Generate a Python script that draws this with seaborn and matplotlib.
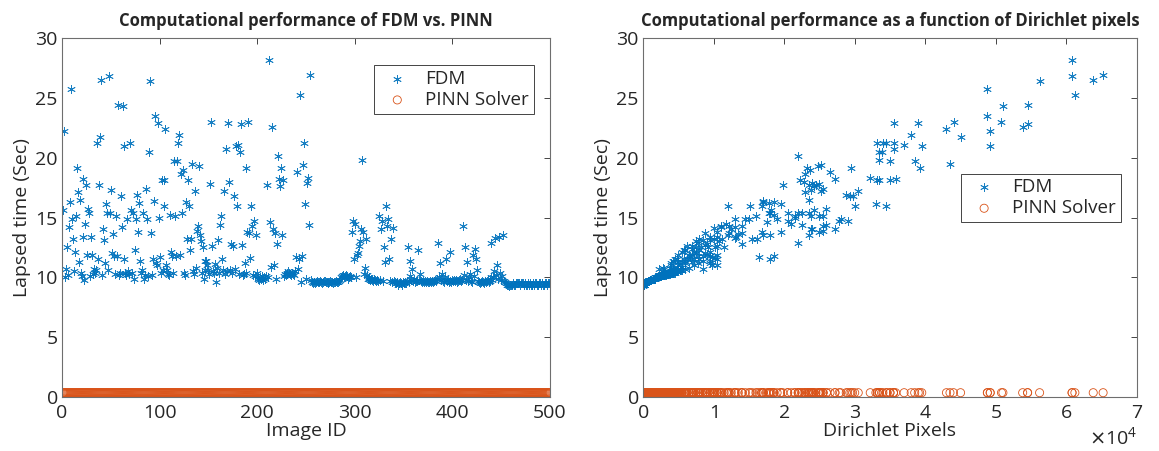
import numpy as np
import pandas as pd
import matplotlib
matplotlib.use("Agg")
import matplotlib.pyplot as plt
import seaborn as sns

# FDM solve time (s) per image, image IDs 1..500
fdm_time = [
    15.6, 22.2, 10.0, 10.7, 12.5, 10.2, 14.2, 16.3, 25.7, 14.9,
    13.2, 10.5, 12.1, 15.1, 19.1, 17.1, 11.25, 16.5, 10.4, 10.1,
    13.4, 18.2, 9.8, 14.5, 17.7, 11.9, 15.7, 15.4, 10.1, 13.4,
    11.9, 10.3, 10.7, 10.4, 10.6, 21.2, 11.5, 17.7, 21.7, 26.5,
    10.2, 14.0, 13.1, 11.2, 16.1, 15.4, 10.6, 26.8, 15.4, 17.3,
    12.0, 13.6, 11.8, 10.3, 15.1, 11.8, 24.4, 10.2, 10.4, 16.8,
    14.2, 24.3, 11.5, 21.0, 10.4, 10.2, 14.9, 10.5, 10.3, 21.2,
    15.6, 10.4, 15.4, 9.9, 12.3, 14.9, 16.9, 13.8, 16.2, 11.4,
    10.4, 10.6, 15.4, 9.9, 10.2, 17.4, 14.9, 10.1, 20.5, 26.4,
    13.7, 10.2, 11.5, 16.4, 23.5, 11.2, 11.0, 22.9, 15.0, 11.7,
    10.4, 18.1, 10.6, 18.1, 16.0, 22.4, 11.0, 10.6, 10.3, 10.2,
    15.2, 12.1, 11.8, 10.4, 19.75, 15.1, 11.8, 19.75, 21.2, 21.9,
    11.9, 18.6, 15.4, 19.0, 10.4, 10.2, 16.3, 13.2, 18.1, 16.0,
    12.3, 13.2, 19.5, 10.5, 10.3, 17.25, 10.75, 13.9, 14.3, 19.3,
    13.5, 13.0, 10.4, 12.5, 9.9, 11.4, 10.6, 11.4, 11.0, 10.6,
    10.3, 17.8, 23.0, 12.6, 10.5, 10.4, 11.1, 9.6, 10.8, 13.1,
    10.4, 14.4, 15.1, 11.5, 10.6, 17.2, 10.3, 20.7, 10.5, 22.9,
    18.0, 10.6, 12.8, 10.4, 12.6, 16.8, 10.7, 21.0, 16.0, 21.1,
    10.3, 20.5, 22.8, 12.7, 10.2, 10.25, 11.2, 19.1, 10.4, 13.8,
    23.0, 13.7, 11.6, 16.0, 14.3, 10.2, 14.7, 10.1, 13.5, 10.4,
    9.9, 9.8, 10.0, 9.9, 10.1, 9.8, 10.0, 9.9, 10.1, 17.7,
    10.0, 28.2, 14.6, 10.9, 22.6, 14.0, 11.0, 13.7, 9.9, 12.8,
    20.1, 18.2, 17.6, 19.1, 13.5, 18.1, 10.1, 10.3, 10.2, 10.4,
    10.3, 10.5, 10.4, 10.3, 10.2, 10.4, 10.3, 10.2, 10.5, 11.7,
    18.8, 10.7, 11.5, 25.2, 9.6, 11.75, 19.4, 21.2, 16.1, 9.9,
    17.9, 18.3, 14.4, 26.9, 9.8, 9.6, 9.5, 9.6, 9.5, 9.6,
    9.7, 9.6, 9.6, 9.7, 9.6, 9.5, 9.6, 9.7, 9.7, 9.6,
    9.6, 9.5, 9.6, 9.6, 9.7, 9.6, 9.6, 9.5, 9.6, 9.6,
    9.7, 9.6, 9.6, 9.7, 9.8, 10.0, 10.1, 10.2, 10.0, 10.1,
    10.2, 10.1, 9.9, 10.0, 10.1, 10.0, 13.8, 14.7, 11.5, 14.5,
    10.0, 11.9, 12.0, 12.6, 13.0, 14.0, 19.8, 13.75, 10.3, 10.8,
    13.2, 10.2, 9.9, 9.9, 10.0, 9.8, 9.9, 9.8, 9.7, 9.9,
    9.8, 9.7, 9.8, 9.7, 15.1, 9.8, 14.0, 14.7, 9.7, 12.5,
    11.25, 16.0, 14.3, 14.9, 11.5, 9.7, 13.2, 9.6, 14.1, 9.7,
    9.6, 9.5, 9.6, 9.4, 9.5, 9.6, 9.5, 9.4, 9.6, 9.5,
    9.6, 9.5, 9.7, 12.5, 9.6, 10.1, 11.4, 9.8, 10.7, 9.7,
    9.9, 9.6, 9.7, 9.7, 12.3, 9.8, 10.3, 9.7, 9.6, 9.7,
    9.6, 9.7, 9.6, 9.7, 9.6, 9.6, 9.7, 9.6, 9.7, 9.6,
    9.7, 9.8, 9.7, 9.9, 12.9, 10.0, 11.2, 9.8, 10.3, 9.7,
    9.6, 10.0, 11.5, 9.7, 9.8, 9.6, 12.1, 9.7, 9.6, 9.8,
    9.7, 9.8, 9.7, 9.8, 9.6, 9.7, 9.8, 9.9, 9.7, 9.8,
    14.3, 10.2, 12.5, 9.8, 11.25, 9.7, 10.0, 10.3, 9.7, 9.6,
    11.9, 10.1, 12.4, 11.5, 10.6, 9.7, 9.6, 9.5, 9.6, 9.7,
    9.6, 9.5, 9.7, 9.6, 9.7, 9.8, 9.6, 9.7, 10.0, 12.9,
    9.8, 10.0, 10.5, 13.3, 10.2, 11.0, 9.9, 13.4, 10.4, 9.8,
    10.1, 13.5, 9.7, 9.6, 9.5, 9.4, 9.4, 9.3, 9.4, 9.4,
    9.4, 9.5, 9.4, 9.4, 9.5, 9.5, 9.5, 9.5, 9.4, 9.5,
    9.5, 9.5, 9.4, 9.5, 9.4, 9.4, 9.5, 9.4, 9.5, 9.4,
    9.4, 9.4, 9.5, 9.4, 9.5, 9.5, 9.4, 9.4, 9.5, 9.5,
    9.4, 9.5, 9.4, 9.4, 9.5, 9.5, 9.4, 9.5, 9.5, 9.5,
]

# Dirichlet pixel count per image, in units of 1e4
dirichlet_px_e4 = [
    1.82, 4.92, 0.20, 0.30, 0.82, 0.28, 1.10, 1.70, 4.88, 1.50,
    1.00, 0.42, 0.95, 2.38, 3.92, 2.30, 0.70, 2.35, 0.38, 0.24,
    0.95, 2.72, 0.12, 1.18, 1.98, 0.65, 2.60, 1.80, 0.26, 1.05,
    0.90, 0.36, 0.42, 0.40, 0.52, 3.55, 0.72, 2.35, 4.50, 6.38,
    0.31, 1.25, 0.95, 0.60, 1.95, 2.25, 0.48, 6.08, 2.35, 2.38,
    0.75, 1.35, 0.78, 0.33, 2.55, 0.95, 5.45, 0.29, 0.41, 2.93,
    1.30, 5.10, 1.05, 4.92, 0.43, 0.27, 1.45, 0.46, 0.34, 3.45,
    2.42, 0.39, 2.20, 0.17, 0.80, 1.90, 2.88, 1.05, 1.78, 0.85,
    0.44, 0.52, 2.05, 0.16, 0.30, 2.55, 1.30, 0.25, 3.35, 5.62,
    0.88, 0.32, 0.62, 1.70, 4.88, 0.95, 0.50, 3.90, 2.15, 0.98,
    0.37, 3.50, 0.55, 3.35, 1.20, 4.30, 0.98, 0.50, 0.38, 0.28,
    1.85, 0.72, 0.66, 0.42, 3.85, 1.60, 0.85, 3.50, 3.40, 3.80,
    1.05, 2.30, 1.78, 2.36, 0.36, 0.26, 1.85, 1.55, 2.22, 1.52,
    0.58, 1.12, 4.35, 0.47, 0.34, 2.52, 0.65, 2.55, 1.40, 2.48,
    1.20, 1.08, 0.45, 1.02, 0.15, 0.60, 0.54, 0.95, 1.05, 0.44,
    0.31, 2.50, 4.40, 0.62, 0.40, 0.35, 0.52, 0.06, 0.38, 0.85,
    0.41, 2.60, 2.15, 0.80, 0.46, 3.05, 0.33, 3.55, 0.43, 3.55,
    2.28, 0.53, 1.40, 0.36, 1.05, 2.97, 0.85, 3.95, 3.00, 3.70,
    0.37, 3.38, 5.45, 0.88, 0.29, 0.31, 0.78, 2.95, 0.39, 2.50,
    5.08, 1.40, 1.02, 3.45, 2.55, 0.27, 2.78, 0.23, 1.70, 0.42,
    0.14, 0.10, 0.19, 0.16, 0.22, 0.11, 0.20, 0.15, 0.24, 2.45,
    0.21, 6.08, 1.75, 0.55, 5.38, 2.72, 0.72, 1.22, 0.17, 0.90,
    2.20, 3.58, 2.42, 2.33, 2.35, 3.32, 0.25, 0.33, 0.30, 0.37,
    0.32, 0.45, 0.40, 0.36, 0.28, 0.43, 0.35, 0.29, 0.48, 1.65,
    2.65, 0.60, 1.80, 6.12, 0.05, 1.85, 2.52, 3.32, 3.30, 0.16,
    2.40, 3.22, 2.25, 6.52, 0.10, 0.05, 0.03, 0.06, 0.02, 0.05,
    0.08, 0.04, 0.06, 0.09, 0.05, 0.02, 0.04, 0.08, 0.07, 0.05,
    0.04, 0.03, 0.06, 0.05, 0.09, 0.04, 0.06, 0.02, 0.05, 0.04,
    0.08, 0.05, 0.04, 0.07, 0.11, 0.18, 0.22, 0.27, 0.20, 0.23,
    0.26, 0.21, 0.14, 0.19, 0.24, 0.17, 1.95, 2.90, 0.45, 2.10,
    0.20, 0.70, 0.88, 0.70, 0.75, 2.40, 3.35, 1.68, 0.36, 0.28,
    1.62, 0.28, 0.15, 0.16, 0.19, 0.12, 0.14, 0.10, 0.08, 0.15,
    0.11, 0.07, 0.12, 0.09, 2.50, 0.10, 2.38, 2.05, 0.08, 0.75,
    0.50, 1.68, 1.10, 2.80, 0.68, 0.09, 0.80, 0.05, 1.00, 0.08,
    0.05, 0.03, 0.04, 0.01, 0.02, 0.05, 0.03, 0.01, 0.06, 0.02,
    0.04, 0.03, 0.08, 0.92, 0.05, 0.22, 0.42, 0.11, 0.22, 0.07,
    0.15, 0.04, 0.08, 0.07, 0.60, 0.12, 0.30, 0.09, 0.05, 0.08,
    0.06, 0.07, 0.04, 0.09, 0.05, 0.03, 0.08, 0.06, 0.07, 0.04,
    0.09, 0.12, 0.08, 0.16, 0.78, 0.19, 0.40, 0.11, 0.29, 0.07,
    0.05, 0.18, 0.48, 0.08, 0.12, 0.04, 0.55, 0.09, 0.05, 0.11,
    0.08, 0.10, 0.07, 0.12, 0.05, 0.09, 0.11, 0.14, 0.08, 0.12,
    1.22, 0.27, 1.15, 0.10, 0.55, 0.08, 0.18, 0.31, 0.07, 0.05,
    0.50, 0.22, 0.70, 0.58, 0.42, 0.08, 0.05, 0.02, 0.04, 0.09,
    0.05, 0.03, 0.07, 0.04, 0.08, 0.11, 0.06, 0.08, 0.19, 2.20,
    0.12, 0.20, 0.40, 1.30, 0.26, 0.40, 0.15, 1.32, 0.38, 0.10,
    0.23, 1.80, 0.08, 0.05, 0.03, 0.01, 0.02, 0.00, 0.01, 0.02,
    0.01, 0.03, 0.02, 0.01, 0.02, 0.03, 0.02, 0.03, 0.01, 0.02,
    0.03, 0.02, 0.01, 0.03, 0.02, 0.01, 0.02, 0.01, 0.03, 0.02,
    0.01, 0.02, 0.03, 0.01, 0.02, 0.03, 0.02, 0.01, 0.02, 0.03,
    0.01, 0.02, 0.01, 0.02, 0.03, 0.02, 0.01, 0.03, 0.02, 0.03,
]

# PINN inference time (s), flat for every image
pinn_time = [0.36] * 500

image_id = list(range(1, 501))

df = pd.DataFrame({
    "id": image_id,
    "fdm": fdm_time,
    "pinn": pinn_time,
    "px": np.array(dirichlet_px_e4) * 1e4,
})

blue = "#0072BD"
orange = "#D95319"
axcol = "#262626"

sns.set_theme(style="white")
plt.rcParams["font.family"] = ["Open Sans", "DejaVu Sans"]
plt.rcParams["axes.edgecolor"] = "#6e6e6e"
plt.rcParams["axes.linewidth"] = 0.8

fig = plt.figure(figsize=(11.59, 4.51), dpi=100)
ax1 = fig.add_axes([0.0535, 0.1197, 0.4211, 0.7960])
ax2 = fig.add_axes([0.5548, 0.1197, 0.4262, 0.7960])

star = (6, 2, 0)


def draw(ax, x, legend_kw):
    sns.scatterplot(data=df, x=x, y="fdm", ax=ax, marker=star, s=32,
                    color=blue, edgecolor=blue, linewidth=0.6, alpha=0.9,
                    label="FDM")
    sns.scatterplot(data=df, x=x, y="pinn", ax=ax, marker="o", s=34,
                    facecolors="none", edgecolor=orange, linewidth=0.6,
                    label="PINN Solver")
    ax.set_ylim(0, 30)
    ax.set_yticks([0, 5, 10, 15, 20, 25, 30])
    ax.set_ylabel("Lapsed time (Sec)", fontsize=14, color=axcol, labelpad=3)
    ax.tick_params(direction="in", length=4, width=0.6, top=True, right=True,
                   labelsize=14, colors=axcol)
    ax.tick_params(axis="x", pad=5)
    ax.tick_params(axis="y", pad=3)
    for s in ax.spines.values():
        s.set_visible(True)
    leg = ax.legend(fontsize=13.5, frameon=True, fancybox=False, framealpha=1,
                    edgecolor=axcol, handletextpad=0.5, borderpad=0.25,
                    labelspacing=0.15, markerscale=1.0, **legend_kw)
    leg.get_frame().set_linewidth(0.6)
    for t in leg.get_texts():
        t.set_color(axcol)


draw(ax1, "id", dict(loc="upper right", bbox_to_anchor=(0.986, 0.95)))
ax1.set_xlim(0, 500)
ax1.set_xticks([0, 100, 200, 300, 400, 500])
ax1.set_xlabel("Image ID", fontsize=14, color=axcol, labelpad=0)
ax1.set_title("Computational performance of FDM vs. PINN", fontsize=12,
              fontweight="bold", pad=9)

draw(ax2, "px", dict(loc="center right", bbox_to_anchor=(0.986, 0.555)))
ax2.set_xlim(0, 7e4)
ax2.set_xticks(np.arange(0, 7.01e4, 1e4))
ax2.ticklabel_format(axis="x", style="sci", scilimits=(0, 0), useMathText=True)
ax2.xaxis.get_offset_text().set_fontsize(14)
ax2.xaxis.get_offset_text().set_color(axcol)
ax2.set_xlabel("Dirichlet Pixels", fontsize=14, color=axcol, labelpad=0)
ax2.set_title("Computational performance as a function of Dirichlet pixels",
              fontsize=12, fontweight="bold", pad=9)

fig.savefig("out.png", dpi=100, facecolor="white")
